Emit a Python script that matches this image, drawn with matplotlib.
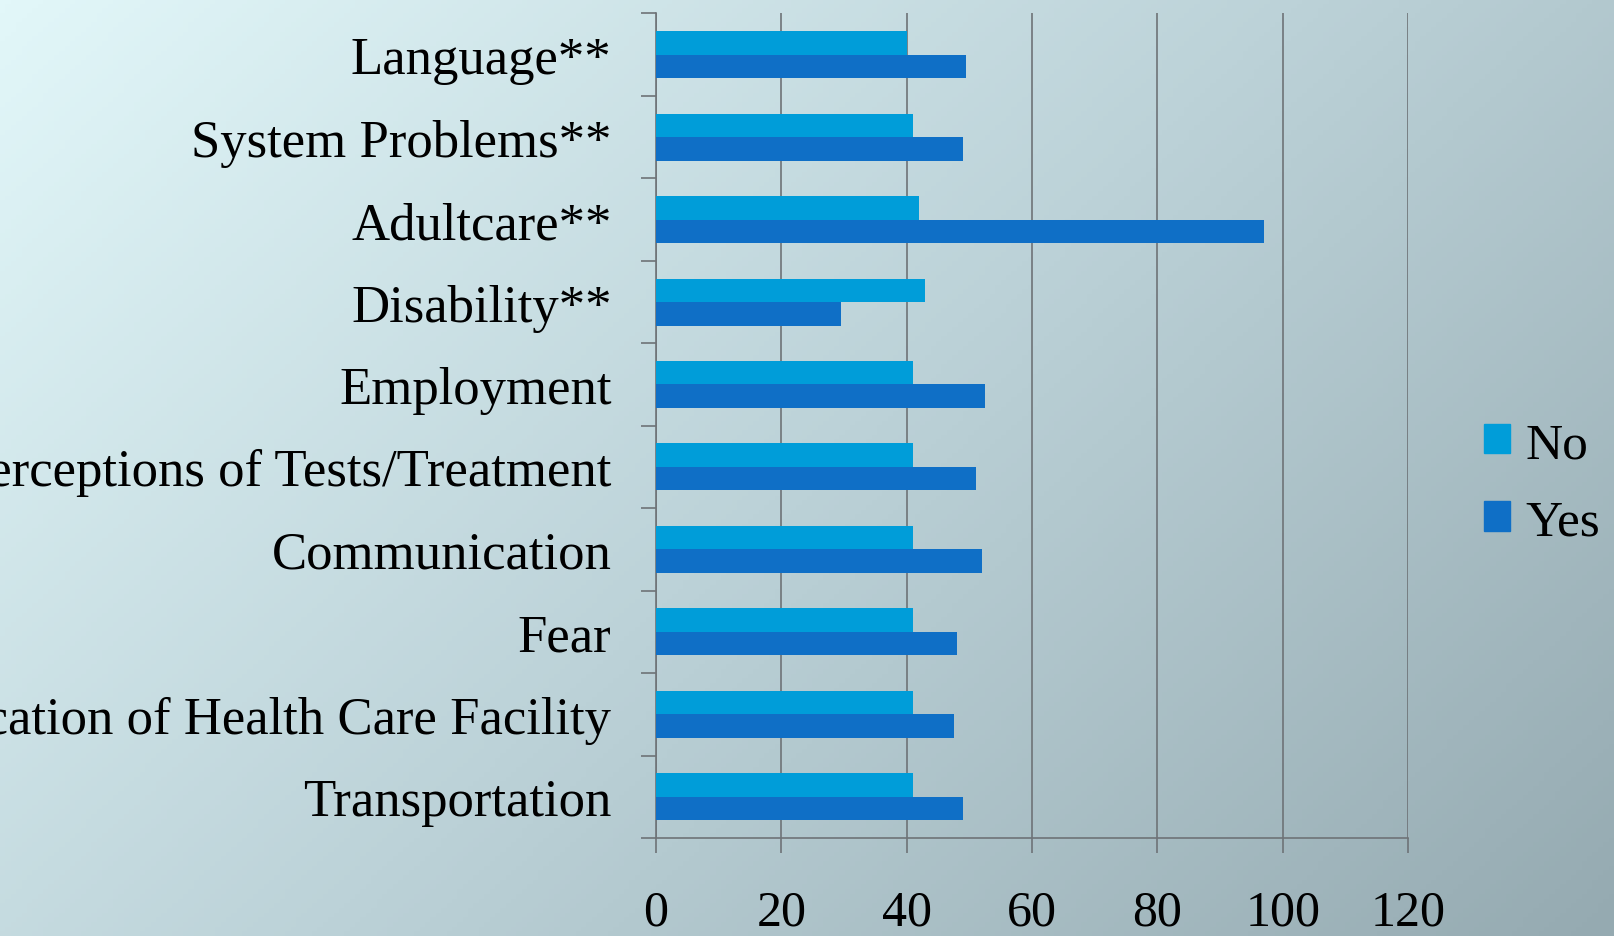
import numpy as np
import matplotlib.pyplot as plt
from matplotlib.patches import Patch
from matplotlib.colors import LinearSegmentedColormap

categorias = ['Language**', 'System Problems**', 'Adultcare**', 'Disability**', 'Employment',
              'Perceptions of Tests/Treatment', 'Communication', 'Fear',
              'Location of Health Care Facility', 'Transportation']
valores_no = [40, 41, 42, 43, 41, 41, 41, 41, 41, 41]
valores_yes = [49.5, 49, 97, 29.5, 52.5, 51, 52, 48, 47.5, 49]
xticks = [0, 20, 40, 60, 80, 100, 120]

cor_no = '#009dd9'
cor_yes = '#0f6fc6'
cor_grade = '#6e7377'
fonte = ['Liberation Serif', 'DejaVu Serif']

plt.rcParams['font.family'] = fonte

fig = plt.figure(figsize=(16.14, 9.37), dpi=100)

# fundo em degrade (canto superior esquerdo claro -> inferior direito acinzentado)
bg = fig.add_axes([0, 0, 1, 1], zorder=-10)
yy, xx = np.mgrid[0:1:200j, 0:1:300j]
t = (xx * 0.62 + yy * 0.38)
cmap = LinearSegmentedColormap.from_list('fundo', ['#e2f7f9', '#bcd2d8', '#95aab1'])
bg.imshow(t, cmap=cmap, aspect='auto', extent=[0, 1, 1, 0], vmin=0, vmax=1)
bg.axis('off')

ax = fig.add_axes([0.4064, 0.1046, 0.4660, 0.8800])
ax.set_facecolor('none')

n = len(categorias)
y = np.arange(n)[::-1]
h = 0.285
ax.barh(y + h / 2, valores_no, height=h, color=cor_no, label='No', zorder=3)
ax.barh(y - h / 2, valores_yes, height=h, color=cor_yes, label='Yes', zorder=3)

ax.set_xlim(0, 120)
ax.set_ylim(-0.5, n - 0.5)
ax.set_xticks(xticks)
ax.set_xticklabels([str(v) for v in xticks], fontsize=36)
ax.set_yticks(y)
ax.set_yticklabels(categorias, fontsize=38)
ax.set_yticks(np.arange(n + 1) - 0.5, minor=True)

ax.tick_params(axis='y', which='major', length=0, pad=32)
ax.tick_params(axis='y', which='minor', length=11, width=1.2, color=cor_grade)
ax.tick_params(axis='x', length=11, width=1.2, color=cor_grade, pad=26)

ax.grid(axis='x', color=cor_grade, linewidth=1.2, zorder=0)
for lado in ['top', 'right']:
    ax.spines[lado].set_visible(False)
for lado in ['left', 'bottom']:
    ax.spines[lado].set_color(cor_grade)
    ax.spines[lado].set_linewidth(1.2)

handles = [Patch(color=cor_no), Patch(color=cor_yes)]
fig.legend(handles, ['No', 'Yes'], loc='center left', bbox_to_anchor=(0.9195, 0.483),
           frameon=False, fontsize=37, handlelength=0.5, handleheight=0.5,
           handletextpad=0.3, labelspacing=0.6, borderpad=0, borderaxespad=0)

fig.savefig('out.png', dpi=100)
